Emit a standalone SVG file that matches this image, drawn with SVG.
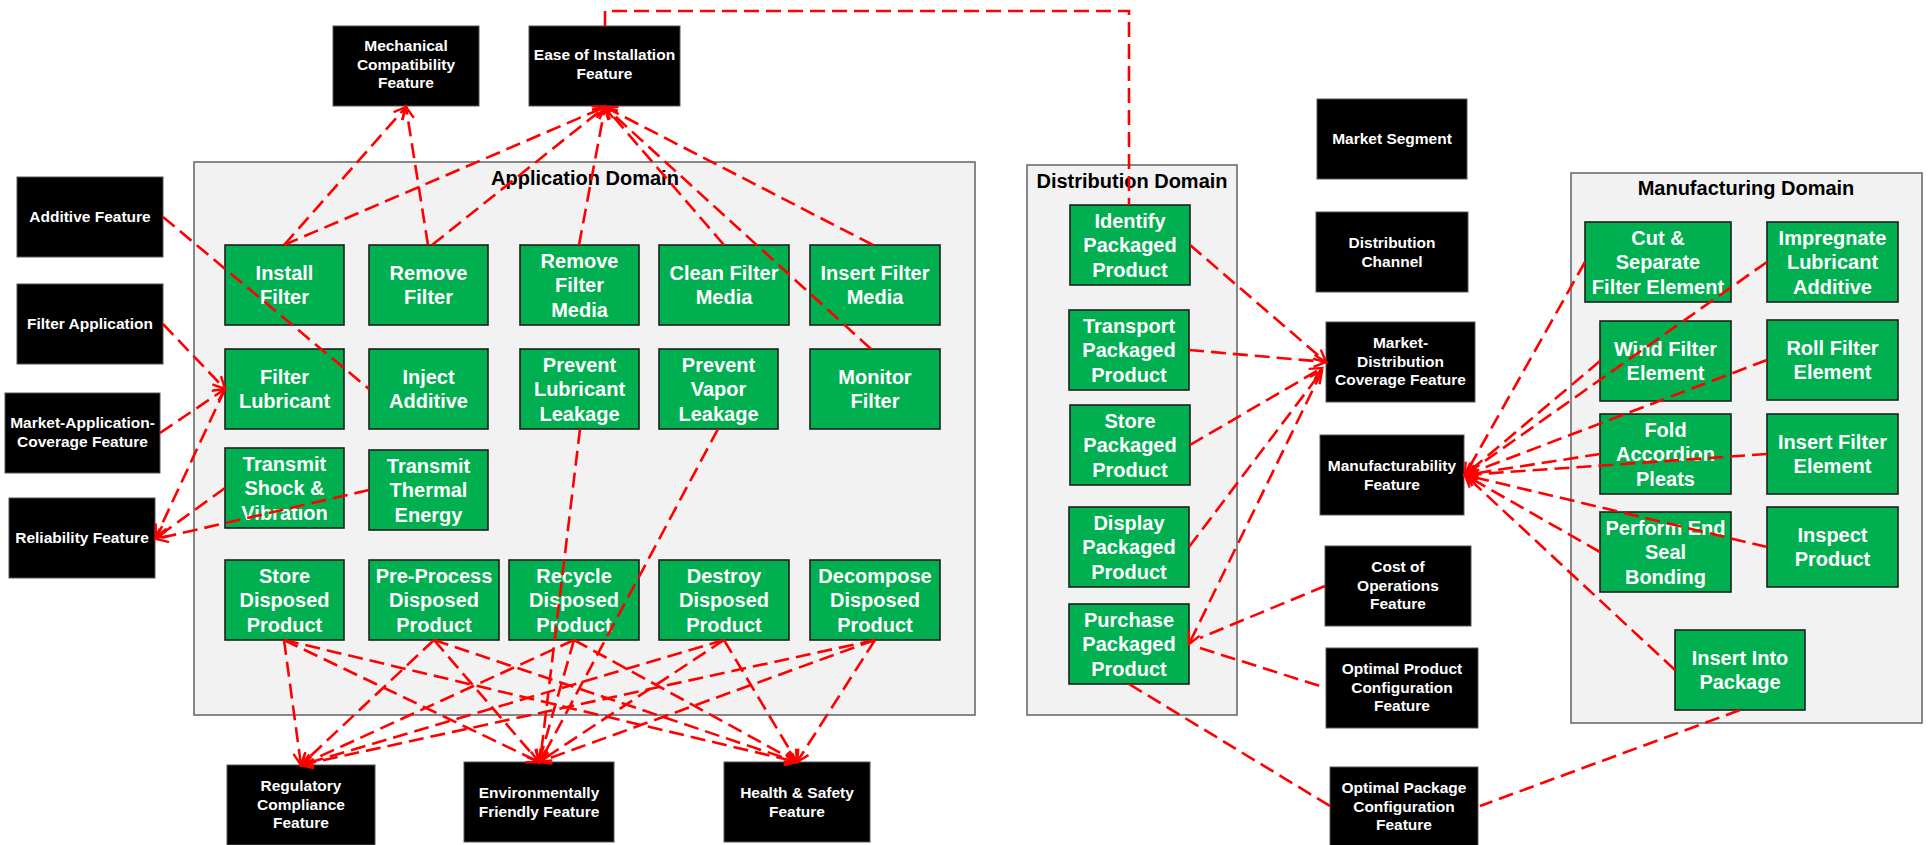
<svg xmlns="http://www.w3.org/2000/svg" width="1929" height="845" viewBox="0 0 1929 845">
<style>
.dom{fill:#F2F2F2;stroke:#6b6b6b;stroke-width:1.6}
.g{fill:#00B050;stroke:#1f1f1f;stroke-width:1.6}
.k{fill:#000;stroke:#555;stroke-width:1}
.gt{font-family:"Liberation Sans",Arial,sans-serif;font-weight:bold;font-size:20px;fill:#fff;text-anchor:middle}
.kt{font-family:"Liberation Sans",Arial,sans-serif;font-weight:bold;font-size:15.5px;fill:#fff;text-anchor:middle}
.dt{font-family:"Liberation Sans",Arial,sans-serif;font-weight:bold;font-size:20px;fill:#000;text-anchor:middle}
.c{fill:none;stroke:#FF0000;stroke-width:2.6;stroke-dasharray:15 7}
.ca{fill:none;stroke:#FF0000;stroke-width:2.6;stroke-dasharray:15 7;marker-end:url(#ah)}
</style>
<defs>
<marker id="ah" markerUnits="userSpaceOnUse" markerWidth="16" markerHeight="16" refX="13" refY="7" orient="auto">
<path d="M1,1 L13,7 L1,13" fill="none" stroke="#FF0000" stroke-width="2.4"/>
</marker>
</defs>

<!-- Domains -->
<g id="application-domain"><rect class="dom" x="194" y="162" width="781" height="553"/><text class="dt" x="585" y="185">Application Domain</text></g>
<g id="distribution-domain"><rect class="dom" x="1027" y="165" width="210" height="550"/><text class="dt" x="1132" y="188">Distribution Domain</text></g>
<g id="manufacturing-domain"><rect class="dom" x="1571" y="173" width="351" height="550"/><text class="dt" x="1746" y="195">Manufacturing Domain</text></g>

<!-- Feature nodes -->
<g id="mechanical-compatibility"><rect class="k" x="333" y="26" width="146" height="80"/><text class="kt" x="406" y="51">Mechanical<tspan x="406" dy="18.5">Compatibility</tspan><tspan x="406" dy="18.5">Feature</tspan></text></g>
<g id="ease-of-installation"><rect class="k" x="529" y="26" width="151" height="80"/><text class="kt" x="604.5" y="60">Ease of Installation<tspan x="604.5" dy="18.5">Feature</tspan></text></g>
<g id="additive-feature"><rect class="k" x="17" y="177" width="146" height="80"/><text class="kt" x="90" y="222">Additive Feature</text></g>
<g id="filter-application"><rect class="k" x="17" y="284" width="146" height="80"/><text class="kt" x="90" y="329">Filter Application</text></g>
<g id="market-application-coverage"><rect class="k" x="5" y="393" width="155" height="80"/><text class="kt" x="82.5" y="428">Market-Application-<tspan x="82.5" dy="18.5">Coverage Feature</tspan></text></g>
<g id="reliability-feature"><rect class="k" x="9" y="498" width="146" height="80"/><text class="kt" x="82" y="543">Reliability Feature</text></g>
<g id="market-segment"><rect class="k" x="1317" y="99" width="150" height="80"/><text class="kt" x="1392" y="144">Market Segment</text></g>
<g id="distribution-channel"><rect class="k" x="1316" y="212" width="152" height="80"/><text class="kt" x="1392" y="248">Distribution<tspan x="1392" dy="18.5">Channel</tspan></text></g>
<g id="market-distribution-coverage"><rect class="k" x="1326" y="322" width="149" height="80"/><text class="kt" x="1400.5" y="348">Market-<tspan x="1400.5" dy="18.5">Distribution</tspan><tspan x="1400.5" dy="18.5">Coverage Feature</tspan></text></g>
<g id="manufacturability"><rect class="k" x="1320" y="435" width="144" height="80"/><text class="kt" x="1392" y="471">Manufacturability<tspan x="1392" dy="18.5">Feature</tspan></text></g>
<g id="cost-of-operations"><rect class="k" x="1325" y="546" width="146" height="80"/><text class="kt" x="1398" y="572">Cost of<tspan x="1398" dy="18.5">Operations</tspan><tspan x="1398" dy="18.5">Feature</tspan></text></g>
<g id="optimal-product-configuration"><rect class="k" x="1326" y="648" width="152" height="80"/><text class="kt" x="1402" y="674">Optimal Product<tspan x="1402" dy="18.5">Configuration</tspan><tspan x="1402" dy="18.5">Feature</tspan></text></g>
<g id="optimal-package-configuration"><rect class="k" x="1330" y="767" width="148" height="80"/><text class="kt" x="1404" y="793">Optimal Package<tspan x="1404" dy="18.5">Configuration</tspan><tspan x="1404" dy="18.5">Feature</tspan></text></g>
<g id="regulatory-compliance"><rect class="k" x="227" y="765" width="148" height="80"/><text class="kt" x="301" y="791">Regulatory<tspan x="301" dy="18.5">Compliance</tspan><tspan x="301" dy="18.5">Feature</tspan></text></g>
<g id="environmentally-friendly"><rect class="k" x="464" y="762" width="150" height="80"/><text class="kt" x="539" y="798">Environmentally<tspan x="539" dy="18.5">Friendly Feature</tspan></text></g>
<g id="health-safety"><rect class="k" x="724" y="762" width="146" height="80"/><text class="kt" x="797" y="798">Health &amp; Safety<tspan x="797" dy="18.5">Feature</tspan></text></g>

<!-- Application functions -->
<g id="install-filter"><rect class="g" x="225" y="245" width="119" height="80"/><text class="gt" x="284.5" y="279.75">Install<tspan x="284.5" dy="24.5">Filter</tspan></text></g>
<g id="remove-filter"><rect class="g" x="369" y="245" width="119" height="80"/><text class="gt" x="428.5" y="279.75">Remove<tspan x="428.5" dy="24.5">Filter</tspan></text></g>
<g id="remove-filter-media"><rect class="g" x="520" y="245" width="119" height="80"/><text class="gt" x="579.5" y="267.5">Remove<tspan x="579.5" dy="24.5">Filter</tspan><tspan x="579.5" dy="24.5">Media</tspan></text></g>
<g id="clean-filter-media"><rect class="g" x="659" y="245" width="130" height="80"/><text class="gt" x="724" y="279.75">Clean Filter<tspan x="724" dy="24.5">Media</tspan></text></g>
<g id="insert-filter-media"><rect class="g" x="810" y="245" width="130" height="80"/><text class="gt" x="875" y="279.75">Insert Filter<tspan x="875" dy="24.5">Media</tspan></text></g>
<g id="filter-lubricant"><rect class="g" x="225" y="349" width="119" height="80"/><text class="gt" x="284.5" y="383.75">Filter<tspan x="284.5" dy="24.5">Lubricant</tspan></text></g>
<g id="inject-additive"><rect class="g" x="369" y="349" width="119" height="80"/><text class="gt" x="428.5" y="383.75">Inject<tspan x="428.5" dy="24.5">Additive</tspan></text></g>
<g id="prevent-lubricant-leakage"><rect class="g" x="520" y="349" width="119" height="80"/><text class="gt" x="579.5" y="371.5">Prevent<tspan x="579.5" dy="24.5">Lubricant</tspan><tspan x="579.5" dy="24.5">Leakage</tspan></text></g>
<g id="prevent-vapor-leakage"><rect class="g" x="659" y="349" width="119" height="80"/><text class="gt" x="718.5" y="371.5">Prevent<tspan x="718.5" dy="24.5">Vapor</tspan><tspan x="718.5" dy="24.5">Leakage</tspan></text></g>
<g id="monitor-filter"><rect class="g" x="810" y="349" width="130" height="80"/><text class="gt" x="875" y="383.75">Monitor<tspan x="875" dy="24.5">Filter</tspan></text></g>
<g id="transmit-shock"><rect class="g" x="225" y="448" width="119" height="80"/><text class="gt" x="284.5" y="470.5">Transmit<tspan x="284.5" dy="24.5">Shock &amp;</tspan><tspan x="284.5" dy="24.5">Vibration</tspan></text></g>
<g id="transmit-thermal"><rect class="g" x="369" y="450" width="119" height="80"/><text class="gt" x="428.5" y="472.5">Transmit<tspan x="428.5" dy="24.5">Thermal</tspan><tspan x="428.5" dy="24.5">Energy</tspan></text></g>
<g id="store-disposed"><rect class="g" x="225" y="560" width="119" height="80"/><text class="gt" x="284.5" y="582.5">Store<tspan x="284.5" dy="24.5">Disposed</tspan><tspan x="284.5" dy="24.5">Product</tspan></text></g>
<g id="preprocess-disposed"><rect class="g" x="369" y="560" width="130" height="80"/><text class="gt" x="434" y="582.5">Pre-Process<tspan x="434" dy="24.5">Disposed</tspan><tspan x="434" dy="24.5">Product</tspan></text></g>
<g id="recycle-disposed"><rect class="g" x="509" y="560" width="130" height="80"/><text class="gt" x="574" y="582.5">Recycle<tspan x="574" dy="24.5">Disposed</tspan><tspan x="574" dy="24.5">Product</tspan></text></g>
<g id="destroy-disposed"><rect class="g" x="659" y="560" width="130" height="80"/><text class="gt" x="724" y="582.5">Destroy<tspan x="724" dy="24.5">Disposed</tspan><tspan x="724" dy="24.5">Product</tspan></text></g>
<g id="decompose-disposed"><rect class="g" x="810" y="560" width="130" height="80"/><text class="gt" x="875" y="582.5">Decompose<tspan x="875" dy="24.5">Disposed</tspan><tspan x="875" dy="24.5">Product</tspan></text></g>

<!-- Distribution functions -->
<g id="identify-packaged"><rect class="g" x="1070" y="205" width="120" height="80"/><text class="gt" x="1130" y="227.5">Identify<tspan x="1130" dy="24.5">Packaged</tspan><tspan x="1130" dy="24.5">Product</tspan></text></g>
<g id="transport-packaged"><rect class="g" x="1069" y="310" width="120" height="80"/><text class="gt" x="1129" y="332.5">Transport<tspan x="1129" dy="24.5">Packaged</tspan><tspan x="1129" dy="24.5">Product</tspan></text></g>
<g id="store-packaged"><rect class="g" x="1070" y="405" width="120" height="80"/><text class="gt" x="1130" y="427.5">Store<tspan x="1130" dy="24.5">Packaged</tspan><tspan x="1130" dy="24.5">Product</tspan></text></g>
<g id="display-packaged"><rect class="g" x="1069" y="507" width="120" height="80"/><text class="gt" x="1129" y="529.5">Display<tspan x="1129" dy="24.5">Packaged</tspan><tspan x="1129" dy="24.5">Product</tspan></text></g>
<g id="purchase-packaged"><rect class="g" x="1069" y="604" width="120" height="80"/><text class="gt" x="1129" y="626.5">Purchase<tspan x="1129" dy="24.5">Packaged</tspan><tspan x="1129" dy="24.5">Product</tspan></text></g>

<!-- Manufacturing functions -->
<g id="cut-separate"><rect class="g" x="1585" y="222" width="146" height="80"/><text class="gt" x="1658" y="244.5">Cut &amp;<tspan x="1658" dy="24.5">Separate</tspan><tspan x="1658" dy="24.5">Filter Element</tspan></text></g>
<g id="impregnate"><rect class="g" x="1767" y="222" width="131" height="80"/><text class="gt" x="1832.5" y="244.5">Impregnate<tspan x="1832.5" dy="24.5">Lubricant</tspan><tspan x="1832.5" dy="24.5">Additive</tspan></text></g>
<g id="wind-filter"><rect class="g" x="1600" y="321" width="131" height="80"/><text class="gt" x="1665.5" y="355.75">Wind Filter<tspan x="1665.5" dy="24.5">Element</tspan></text></g>
<g id="roll-filter"><rect class="g" x="1767" y="320" width="131" height="80"/><text class="gt" x="1832.5" y="354.75">Roll Filter<tspan x="1832.5" dy="24.5">Element</tspan></text></g>
<g id="fold-accordion"><rect class="g" x="1600" y="414" width="131" height="80"/><text class="gt" x="1665.5" y="436.5">Fold<tspan x="1665.5" dy="24.5">Accordion</tspan><tspan x="1665.5" dy="24.5">Pleats</tspan></text></g>
<g id="insert-filter-element"><rect class="g" x="1767" y="414" width="131" height="80"/><text class="gt" x="1832.5" y="448.75">Insert Filter<tspan x="1832.5" dy="24.5">Element</tspan></text></g>
<g id="perform-end-seal"><rect class="g" x="1600" y="512" width="131" height="80"/><text class="gt" x="1665.5" y="534.5">Perform End<tspan x="1665.5" dy="24.5">Seal</tspan><tspan x="1665.5" dy="24.5">Bonding</tspan></text></g>
<g id="inspect-product"><rect class="g" x="1767" y="507" width="131" height="80"/><text class="gt" x="1832.5" y="541.75">Inspect<tspan x="1832.5" dy="24.5">Product</tspan></text></g>
<g id="insert-into-package"><rect class="g" x="1675" y="630" width="130" height="80"/><text class="gt" x="1740" y="664.75">Insert Into<tspan x="1740" dy="24.5">Package</tspan></text></g>

<!-- Connectors -->
<g id="connectors">
<path class="ca" d="M284,245 L406,107"/>
<path class="ca" d="M428,245 L406,107"/>
<path class="ca" d="M284,245 L605,107"/>
<path class="ca" d="M432,245 L605,107"/>
<path class="ca" d="M579,245 L605,107"/>
<path class="ca" d="M724,245 L605,107"/>
<path class="ca" d="M873,245 L605,107"/>
<path class="ca" d="M871,349 L605,107"/>
<path class="c" d="M605,26 L605,11 L1129,11 L1129,205"/>
<path class="c" d="M163,217 L369,389"/>
<path class="ca" d="M163,324 L225,389"/>
<path class="ca" d="M160,433 L225,389"/>
<path class="ca" d="M225,389 L156,537"/>
<path class="ca" d="M225,488 L156,538"/>
<path class="ca" d="M369,490 L156,539"/>
<path class="ca" d="M580,429 L540,762"/>
<path class="ca" d="M718,429 L540,762"/>
<path class="ca" d="M284,640 L301,765"/>
<path class="ca" d="M284,640 L539,762"/>
<path class="ca" d="M284,640 L797,762"/>
<path class="ca" d="M434,640 L301,765"/>
<path class="ca" d="M434,640 L539,762"/>
<path class="ca" d="M434,640 L797,762"/>
<path class="ca" d="M574,640 L301,765"/>
<path class="ca" d="M574,640 L539,762"/>
<path class="ca" d="M574,640 L797,762"/>
<path class="ca" d="M724,640 L301,765"/>
<path class="ca" d="M724,640 L539,762"/>
<path class="ca" d="M724,640 L797,762"/>
<path class="ca" d="M875,640 L301,765"/>
<path class="ca" d="M875,640 L539,762"/>
<path class="ca" d="M875,640 L797,762"/>
<path class="ca" d="M1190,245 L1326,362"/>
<path class="ca" d="M1189,350 L1326,362"/>
<path class="ca" d="M1190,445 L1322,368"/>
<path class="ca" d="M1189,547 L1322,371"/>
<path class="ca" d="M1322,371 L1189,644"/>
<path class="c" d="M1325,586 L1200,638"/>
<path class="c" d="M1200,648 L1326,688"/>
<path class="c" d="M1129,684 L1330,806"/>
<path class="c" d="M1740,710 L1480,806"/>
<path class="ca" d="M1585,262 L1465,475"/>
<path class="ca" d="M1767,262 L1465,475"/>
<path class="ca" d="M1600,361 L1465,475"/>
<path class="ca" d="M1767,360 L1465,475"/>
<path class="ca" d="M1600,454 L1465,475"/>
<path class="ca" d="M1767,454 L1465,475"/>
<path class="ca" d="M1600,552 L1465,475"/>
<path class="ca" d="M1767,547 L1465,475"/>
<path class="ca" d="M1675,670 L1465,475"/>
</g>
</svg>
